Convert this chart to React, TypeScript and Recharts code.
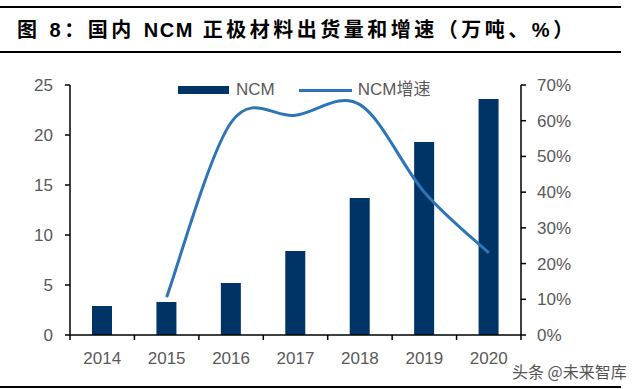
import React from 'react';
import { ComposedChart, Bar, Line, XAxis, YAxis, Legend } from 'recharts';

const years = ['2014', '2015', '2016', '2017', '2018', '2019', '2020'];
const ncmVolume = [2.9, 3.3, 5.2, 8.4, 13.7, 19.3, 23.6];
const ncmGrowth: (number | null)[] = [null, 10.6, 59.5, 61.5, 64.5, 40, 23];
const leftTicks = [0, 5, 10, 15, 20, 25];
const rightTicks = [0, 10, 20, 30, 40, 50, 60, 70];

const data = years.map((y, i) => ({ year: y, ncm: ncmVolume[i], growth: ncmGrowth[i] }));

const LATIN = "'Liberation Sans', Arial, 'Noto Sans CJK SC', sans-serif";
const GRAY = '#595959';
const BAR = '#003366';
const LINE = '#2E75B6';

// Excel-like smoothed line (Catmull-Rom through points)
const excelSmooth: any = (context: any) => {
  let pts: number[][] = [];
  return {
    areaStart() {},
    areaEnd() {},
    lineStart() {
      pts = [];
    },
    point(x: number, y: number) {
      pts.push([+x, +y]);
    },
    lineEnd() {
      const n = pts.length;
      if (!n) return;
      context.moveTo(pts[0][0], pts[0][1]);
      for (let i = 0; i < n - 1; i++) {
        const p0 = pts[i - 1] || pts[i];
        const p1 = pts[i];
        const p2 = pts[i + 1];
        const p3 = pts[i + 2] || p2;
        context.bezierCurveTo(
          p1[0] + (p2[0] - p0[0]) / 6,
          p1[1] + (p2[1] - p0[1]) / 6,
          p2[0] - (p3[0] - p1[0]) / 6,
          p2[1] - (p3[1] - p1[1]) / 6,
          p2[0],
          p2[1]
        );
      }
    },
  };
};

const XTick = (props: any) => {
  const { x, y, payload, index, visibleTicksCount } = props;
  const half = payload && payload.offset ? payload.offset : 451 / 14;
  const axisY = y - 17;
  return (
    <g>
      <line x1={x - half} x2={x - half} y1={axisY} y2={axisY + 5} stroke="#000" strokeWidth={1.5} />
      {index === visibleTicksCount - 1 && (
        <line x1={x + half} x2={x + half} y1={axisY} y2={axisY + 5} stroke="#000" strokeWidth={1.5} />
      )}
      <text x={x} y={y} dy="0.71em" textAnchor="middle" fill={GRAY} fontSize={17} fontFamily={LATIN}>
        {payload.value}
      </text>
    </g>
  );
};

const LegendContent = () => (
  <div style={{ display: 'flex', alignItems: 'center', height: 24, fontFamily: LATIN, fontSize: 17, color: GRAY }}>
    <div style={{ width: 51, height: 8, background: BAR }} />
    <span style={{ marginLeft: 7, lineHeight: '24px' }}>NCM</span>
    <div style={{ width: 53, height: 3, background: LINE, marginLeft: 24 }} />
    <span style={{ marginLeft: 6, lineHeight: '24px' }}>NCM增速</span>
  </div>
);

export default function App() {
  return (
    <div style={{ position: 'absolute', left: 0, top: 0, width: 640, height: 389, background: '#fff', overflow: 'hidden' }}>
      <div style={{ position: 'absolute', left: 0, top: 5.5, width: 621, height: 2.2, background: '#000' }} />
      <div
        style={{
          position: 'absolute',
          left: 17,
          top: 19,
          height: 22,
          lineHeight: '22px',
          fontSize: 20,
          fontWeight: 'bold',
          letterSpacing: 3.5,
          color: '#000',
          fontFamily: LATIN,
          whiteSpace: 'nowrap',
        }}
      >
        图 8：国内 <span style={{ letterSpacing: 1.5 }}>NCM</span> 正极材料出货量和增速（万吨、%）
      </div>
      <div style={{ position: 'absolute', left: 0, top: 51, width: 621, height: 2.2, background: '#000' }} />
      <div style={{ position: 'absolute', left: 0, top: 0 }}>
        <ComposedChart width={640} height={389} data={data} margin={{ top: 85, right: 0, bottom: 0, left: 0 }}>
          <XAxis
            dataKey="year"
            height={54}
            tickSize={5}
            tickMargin={12}
            tickLine={false}
            axisLine={{ stroke: '#000', strokeWidth: 1.5 }}
            tick={<XTick />}
            interval={0}
          />
          <YAxis
            yAxisId="left"
            orientation="left"
            width={70}
            domain={[0, 25]}
            ticks={leftTicks}
            tickSize={5}
            tickMargin={12}
            axisLine={{ stroke: '#000', strokeWidth: 1.5 }}
            tickLine={{ stroke: '#000', strokeWidth: 1.5 }}
            tick={{ fill: GRAY, fontSize: 17, fontFamily: LATIN }}
            interval={0}
          />
          <YAxis
            yAxisId="right"
            orientation="right"
            width={119}
            domain={[0, 70]}
            ticks={rightTicks}
            tickFormatter={(v: number) => `${v}%`}
            tickSize={5}
            tickMargin={11}
            axisLine={{ stroke: '#000', strokeWidth: 1.5 }}
            tickLine={{ stroke: '#000', strokeWidth: 1.5 }}
            tick={{ fill: GRAY, fontSize: 17, fontFamily: LATIN }}
            interval={0}
          />
          <Legend
            layout="horizontal"
            verticalAlign="middle"
            align="center"
            content={<LegendContent />}
            wrapperStyle={{ top: 78, left: 178, width: 320, height: 24 }}
          />
          <Bar yAxisId="left" dataKey="ncm" name="NCM" fill={BAR} barSize={20} isAnimationActive={false} />
          <Line
            yAxisId="right"
            dataKey="growth"
            name="NCM增速"
            type={excelSmooth}
            stroke={LINE}
            strokeWidth={3}
            dot={false}
            activeDot={false}
            isAnimationActive={false}
          />
        </ComposedChart>
      </div>
      <div
        style={{
          position: 'absolute',
          left: 512,
          top: 361,
          lineHeight: '20px',
          fontSize: 16,
          color: '#555',
          fontFamily: "'Noto Sans CJK SC', sans-serif",
          whiteSpace: 'nowrap',
        }}
      >
        头条 @未来智库
      </div>
      <div style={{ position: 'absolute', left: 0, top: 385.5, width: 621, height: 2.5, background: '#000' }} />
    </div>
  );
}
